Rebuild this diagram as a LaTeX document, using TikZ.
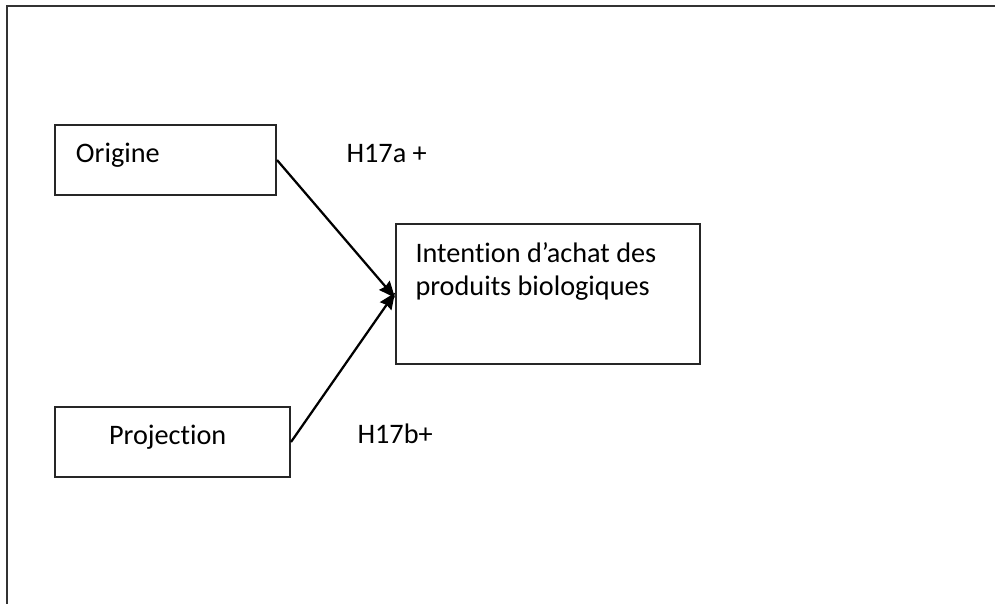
\documentclass[tikz,border=0pt]{standalone}
\usepackage{fontspec}
\setmainfont[Ligatures=CommonOff]{Carlito}
\usetikzlibrary{positioning}
\usetikzlibrary{arrows.meta}
\tikzstyle{varbox} = [rectangle,draw=black!85,line width=0.8pt,inner ysep=0pt,minimum height=28pt, text height=7.7pt, text depth=6pt, align=left, font=\fontsize{11.3}{13.4}\selectfont]
\tikzstyle{hyplabel} = [inner sep=0pt, anchor=west, font=\fontsize{11.3}{13.4}\selectfont]
\tikzstyle{link} = [line width=0.9pt, -{Stealth[length=6.5pt,width=5.5pt,inset=0.6pt]}]

\begin{document}
\begin{tikzpicture}[x=0.4pt,y=-0.4pt]
\useasboundingbox (0,0) rectangle (995,604);

% Frame
\coordinate (fr) at (995,6);
\coordinate (fc) at (7,6);
\coordinate (fb) at (7,604);
\draw[line width=1pt, black!80] (fr) -- (fc) -- (fb);

% Define nodes
\node[varbox, anchor=north west, minimum width=88.4pt, text width=71.6pt, inner xsep=8.4pt]  at (54,124) (orig) {Origine};
\node[varbox, below=84pt of orig.south west, anchor=north west, minimum width=94pt,
      text width=50.8pt, inner xsep=21.6pt]                                                    (proj) {Projection};
\node[varbox, below right=39.6pt and 47.2pt of orig.north east, anchor=north west,
      minimum width=121.6pt, minimum height=56pt]                                              (int) {};
\node[inner sep=0pt, below right=7.6pt and 8pt of int.north west, anchor=north west, align=left,
      font=\fontsize{11.3}{13.4}\selectfont]                                                   (inttxt) {Intention d’achat des\\produits biologiques};

\node[hyplabel, right=27.6pt of orig.east, yshift=2.4pt]   (ha) {H17a +};
\node[hyplabel, right=26.4pt of proj.east, yshift=3.4pt]   (hb) {H17b+};

% Edges
\draw[link] (orig.east) -- ([yshift=-1.5pt]int.west);
\draw[link] (proj.east) -- ([yshift=0.5pt]int.west);

\end{tikzpicture}
\end{document}
